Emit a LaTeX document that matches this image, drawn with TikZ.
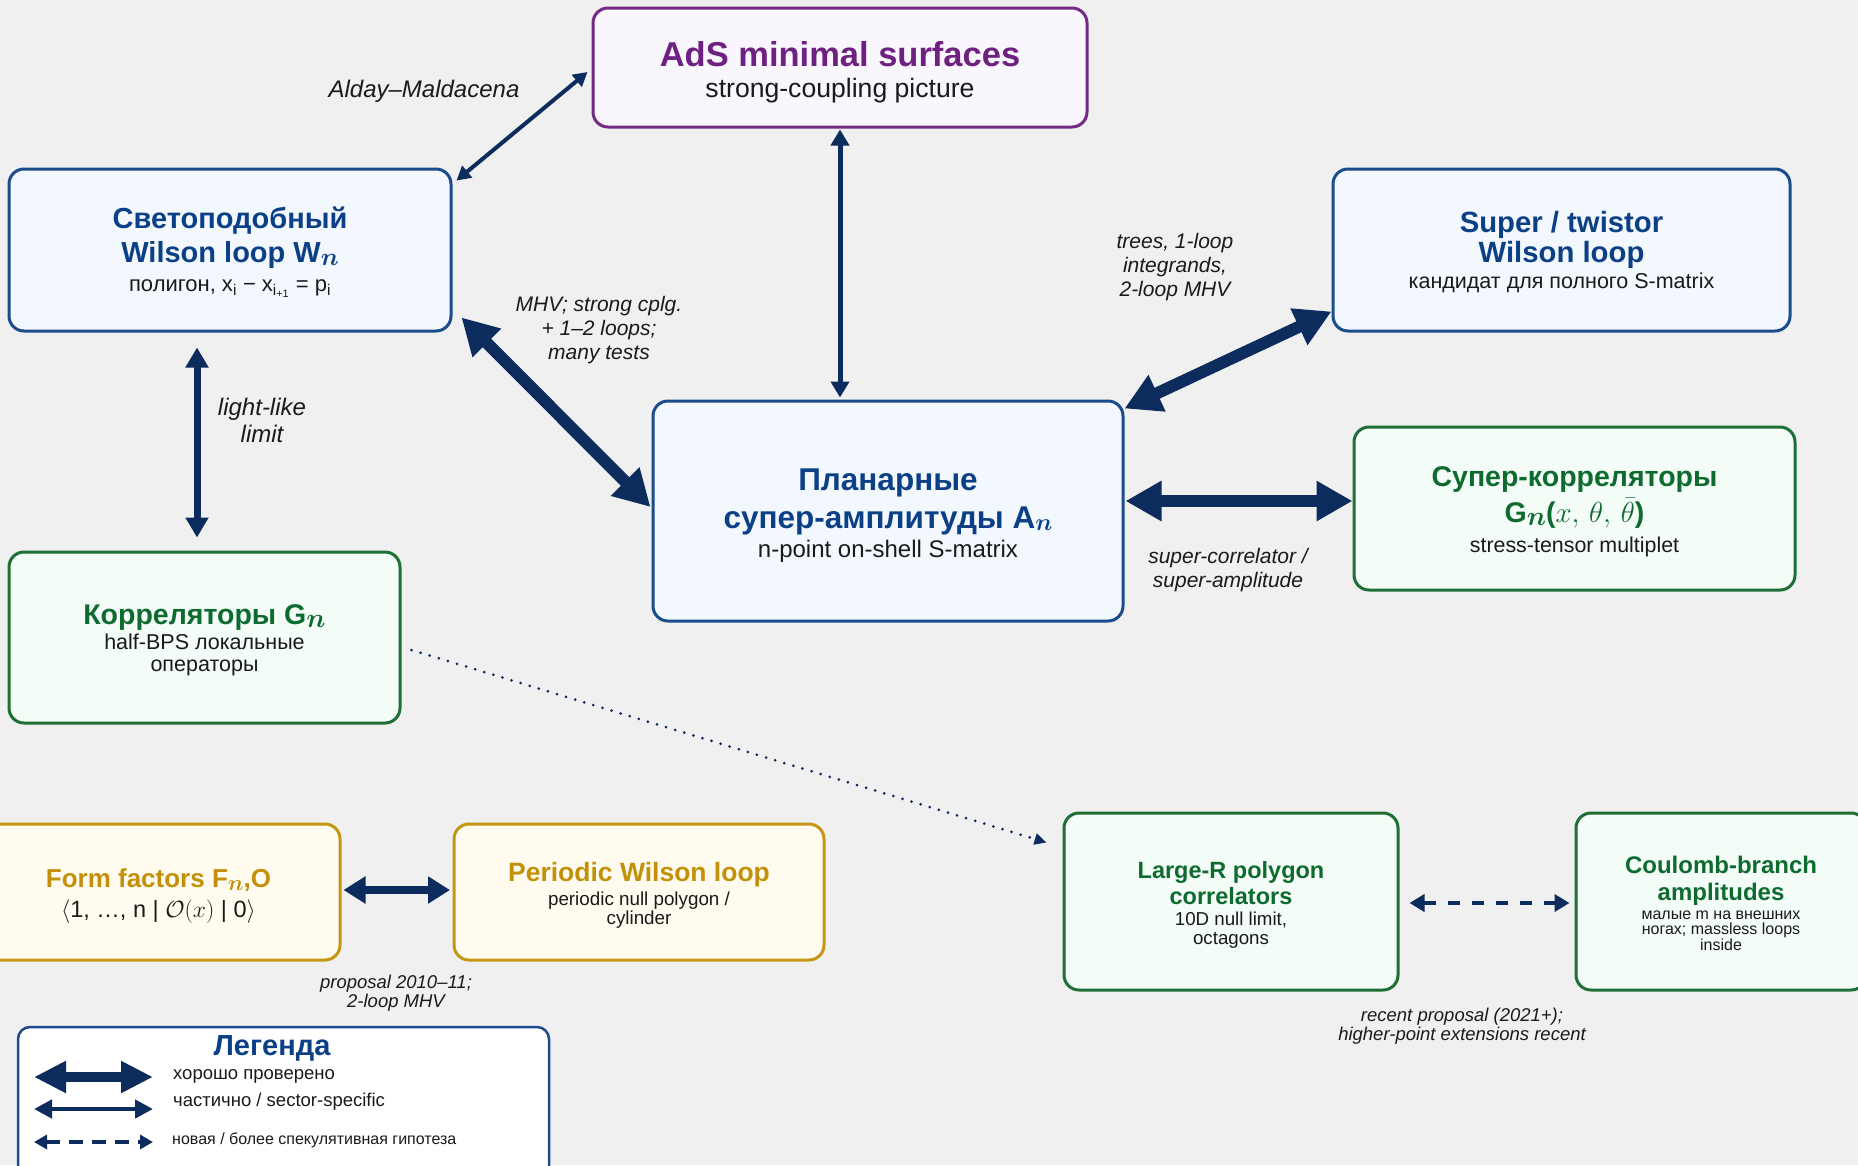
\RequirePackage{fix-cm}
\documentclass[tikz,border=0pt]{standalone}
\usepackage{amsmath,bm}
\usepackage{fontspec}
\setmainfont{Liberation Sans}
\usetikzlibrary{arrows.meta,calc}
\definecolor{bgc}{HTML}{F0F0F0}
\definecolor{arrc}{HTML}{0C2C5E}
\definecolor{bluet}{HTML}{0B3F86}
\definecolor{blueb}{HTML}{1B4C8C}
\definecolor{bluef}{HTML}{F3F8FE}
\definecolor{greent}{HTML}{0E6B30}
\definecolor{greenb}{HTML}{1D6F35}
\definecolor{greenf}{HTML}{F3FCF6}
\definecolor{purpt}{HTML}{6E2180}
\definecolor{purpb}{HTML}{722A83}
\definecolor{purpf}{HTML}{FAF6FD}
\definecolor{goldt}{HTML}{C3900A}
\definecolor{goldb}{HTML}{C49612}
\definecolor{goldf}{HTML}{FFFBEE}
\definecolor{txt}{HTML}{1A1A1A}
\newcommand\subx[2]{\fontsize{#1}{#1}\selectfont\mdseries\color{txt}#2}
\newcommand\pdn[1]{\rule{0pt}{\dimexpr 0.73em+#1pt\relax}}
\newcommand\bn[1]{{\fontsize{#1}{#1}\selectfont\raisebox{-0.12em}{$\bm{n}$}}}
\tikzset{
  box/.style={rounded corners=15pt, line width=3pt, align=center, inner sep=0pt},
  bluebox/.style={box, draw=blueb, fill=bluef, text=bluet},
  greenbox/.style={box, draw=greenb, fill=greenf, text=greent},
  purpbox/.style={box, draw=purpb, fill=purpf, text=purpt},
  goldbox/.style={box, draw=goldb, fill=goldf, text=goldt},
  lab/.style={align=center, text=txt, font=\itshape, inner sep=0pt},
  thickarr/.style={draw=arrc, line width=12pt, {Triangle[length=36pt,width=38pt]}-{Triangle[length=36pt,width=38pt]}},
  ffarr/.style={draw=arrc, line width=8pt, {Triangle[length=22pt,width=26pt]}-{Triangle[length=22pt,width=26pt]}},
  medarr/.style={draw=arrc, line width=5pt, {Triangle[length=16pt,width=18pt]}-{Triangle[length=16pt,width=18pt]}},
  llarr/.style={draw=arrc, line width=7pt, {Triangle[length=20pt,width=22pt]}-{Triangle[length=20pt,width=22pt]}},
  thinarr/.style={draw=arrc, line width=4pt, {Triangle[length=14pt,width=15pt]}-{Triangle[length=14pt,width=15pt]}},
  dasharr/.style={draw=arrc, line width=4.5pt, dash pattern=on 12pt off 12pt, {Triangle[length=15pt,width=17pt]}-{Triangle[length=15pt,width=17pt]}},
  dotarr/.style={draw=arrc, line width=3pt, line cap=round, dash pattern=on 0pt off 9.5pt, -{Triangle[length=12pt,width=11pt]}},
}
\begin{document}
\begin{tikzpicture}[x=1pt,y=-1pt]
\fill[bgc] (0,0) rectangle (1858,1165);
\useasboundingbox (0,0) rectangle (1858,1165);

% boxes
\node[purpbox, minimum width=494pt, minimum height=119pt, font=\fontsize{34.5}{31}\selectfont\bfseries] (ads) at (840,67.5)
 {\pdn{10}AdS minimal surfaces\\\subx{26.6}{strong-coupling picture}};

\node[bluebox, minimum width=442pt, minimum height=162pt, font=\fontsize{29}{34}\selectfont\bfseries] (wl) at (230,250)
 {\pdn{5}Светоподобный\\Wilson loop W\bn{25}\\[-5pt]
  \subx{22}{полигон, x\textsubscript{i} − x\textsubscript{i\textsubscript{+1}} = p\textsubscript{i}}};

\node[bluebox, minimum width=457pt, minimum height=162pt, font=\fontsize{29.3}{30}\selectfont\bfseries] (stw) at (1561.5,250)
 {\pdn{3.5}Super / twistor\\Wilson loop\\[-4pt]\subx{21.5}{кандидат для полного S-matrix}};

\node[bluebox, minimum width=470pt, minimum height=220pt, font=\fontsize{31.5}{38}\selectfont\bfseries] (amp) at (888,511)
 {\pdn{7}Планарные\\супер-амплитуды A\bn{24}\\[-9pt]\subx{24}{n-point on-shell S-matrix}};

\node[greenbox, minimum width=441pt, minimum height=163pt, font=\fontsize{28.5}{36}\selectfont\bfseries] (scorr) at (1574.5,508.5)
 {\pdn{5}Супер-корреляторы\\G\bn{27}({\fontsize{29}{29}\selectfont$x,\,\theta,\,\bar{\theta}$})\\[-6pt]\subx{21.4}{stress-tensor multiplet}};

\node[greenbox, minimum width=391pt, minimum height=171pt, font=\fontsize{28.5}{25}\selectfont\bfseries] (corr) at (204.5,637.5)
 {\pdn{5}Корреляторы G\bn{27}\\\subx{21.5}{half-BPS локальные}\\[-3pt]\subx{21.5}{операторы}};

\node[goldbox, minimum width=363pt, minimum height=136pt, font=\fontsize{26}{30}\selectfont\bfseries] (ff) at (158.5,892)
 {\pdn{8}Form factors F\bn{22},O\\\subx{23.5}{$\langle$1, …, n | $\mathcal{O}(x)$ | 0$\rangle$}};

\node[goldbox, minimum width=370pt, minimum height=136pt, font=\fontsize{26.5}{24}\selectfont\bfseries] (pwl) at (639,892)
 {\pdn{6}Periodic Wilson loop\\\subx{18.8}{periodic null polygon /}\\[-5pt]\subx{18.8}{cylinder}};

\node[greenbox, minimum width=334pt, minimum height=177pt, font=\fontsize{23.5}{26}\selectfont\bfseries] (lr) at (1231,901.5)
 {\pdn{7}Large-R polygon\\correlators\\[-5pt]\subx{18.7}{10D null limit,}\\[-7pt]\subx{18.7}{octagons}};

\node[greenbox, minimum width=290pt, minimum height=177pt, font=\fontsize{24}{27}\selectfont\bfseries] (cb) at (1721,901.5)
 {\pdn{3}Coulomb-branch\\amplitudes\\[-8pt]\subx{16}{малые m на внешних}\\[-11.5pt]\subx{16}{ногах; massless loops}\\[-11.5pt]\subx{16}{inside}};

% connectors
\draw[thinarr] ($(ads.west)+(-4,4.5)$) -- ($(wl.north east)+(4,13)$);
\draw[medarr] ($(ads.south)+(0,1)$) -- ($(ads.south |- amp.north)+(0,-2)$);
\draw[thickarr] ($(wl.south east)+(9,-15)$) -- ($(amp.west)+(-1,-4)$);
\draw[thickarr] ($(stw.south west)+(0,-21)$) -- ($(amp.north east)+(0,9)$);
\draw[thickarr] ($(amp.east)+(1,-10)$) -- ($(scorr.west)+(0,-7.5)$);
\draw[llarr] ($(wl.south)+(-33,15)$) -- ($(corr.north)+(-7.5,-13)$);
\draw[ffarr] ($(ff.east)+(2,-2)$) -- ($(pwl.west)+(-2.5,-2)$);
\draw[dotarr] ($(corr.east)+(10,12.5)$) -- ($(lr.north west)+(-16,31)$);
\draw[dasharr] ($(lr.east)+(10,1.5)$) -- ($(cb.west)+(-5,1.5)$);

% connector labels
\node[lab, font=\itshape\fontsize{24}{27}\selectfont] (l-am) at (424,91) {Alday–Maldacena};
\node[lab, font=\itshape\fontsize{21}{24}\selectfont] (l-mhv) at (599,330.5) {MHV; strong cplg.\\+ 1–2 loops;\\many tests};
\node[lab, font=\itshape\fontsize{21}{24}\selectfont] (l-trees) at (1175,267.5) {trees, 1-loop\\integrands,\\2-loop MHV};
\node[lab, font=\itshape\fontsize{21}{24.5}\selectfont] (l-sc) at (1228,570) {super-correlator /\\super-amplitude};
\node[lab, font=\itshape\fontsize{24}{27}\selectfont] (l-ll) at (262,420) {light-like\\limit};
\node[lab, font=\itshape\fontsize{18.5}{19}\selectfont] (l-prop) at (396,993) {proposal 2010–11;\\2-loop MHV};
\node[lab, font=\itshape\fontsize{18.5}{19.5}\selectfont] (l-rec) at (1462,1026) {recent proposal (2021+);\\higher-point extensions recent};

% legend
\node[draw=blueb, fill=white, line width=2.5pt, rounded corners=12pt, minimum width=531pt, minimum height=153pt, inner sep=0pt] (legend) at (283.5,1103.5) {};
\node[text=bluet, font=\bfseries\fontsize{29}{30}\selectfont, inner sep=0pt] (legtitle) at (272,1048) {Легенда};
\coordinate (k1a) at (34,1077); \coordinate (k1b) at (153,1077);
\coordinate (k2a) at (34,1109); \coordinate (k2b) at (153,1109);
\coordinate (k3a) at (34,1142); \coordinate (k3b) at (153,1142);
\draw[draw=arrc, line width=10pt, {Triangle[length=32pt,width=30pt]}-{Triangle[length=32pt,width=30pt]}] (k1a) -- (k1b);
\draw[draw=arrc, line width=4.5pt, {Triangle[length=18pt,width=18pt]}-{Triangle[length=18pt,width=18pt]}] (k2a) -- (k2b);
\draw[draw=arrc, line width=4pt, dash pattern=on 14pt off 9pt, {Triangle[length=13pt,width=14pt]}-{Triangle[length=13pt,width=14pt]}] (k3a) -- (k3b);
\node[anchor=west, text=txt, font=\fontsize{18.5}{20}\selectfont, inner sep=0pt] (leg1) at (173,1076) {хорошо проверено};
\node[anchor=west, text=txt, font=\fontsize{18.5}{20}\selectfont, inner sep=0pt] (leg2) at (173,1102) {частично / sector-specific};
\node[anchor=west, text=txt, font=\fontsize{16}{18}\selectfont, inner sep=0pt] (leg3) at (172,1140) {новая / более спекулятивная гипотеза};
\end{tikzpicture}
\end{document}
